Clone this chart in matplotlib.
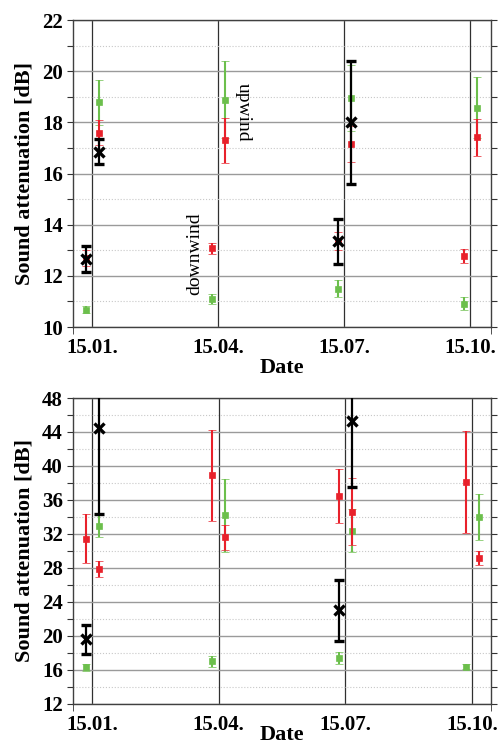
import numpy as np
import matplotlib
matplotlib.use("Agg")
import matplotlib.pyplot as plt
from matplotlib.ticker import MultipleLocator, FixedLocator

plt.rcParams['font.family'] = ['Liberation Serif', 'DejaVu Serif']

# ---- data ----
date_labels = ['15.01.', '15.04.', '15.07.', '15.10.']
date_months = [0, 3, 6, 9]   # months after 15.01.

nan = np.nan
# top panel
top_red_down = [12.70, 13.07, 13.35, 12.77]
top_red_down_err = [0.30, 0.20, 0.35, 0.27]
top_red_up = [17.60, 17.30, 17.15, 17.42]
top_red_up_err = [0.50, 0.88, 0.70, 0.73]
top_green_down = [10.68, 11.11, 11.50, 10.91]
top_green_down_err = [0.15, 0.20, 0.33, 0.26]
top_green_up = [18.78, 18.88, 18.96, 18.57]
top_green_up_err = [0.87, 1.50, 1.29, 1.20]
top_black_down = [12.67, nan, 13.35, nan]
top_black_down_err = [0.50, nan, 0.87, nan]
top_black_up = [16.85, nan, 18.00, nan]
top_black_up_err = [0.49, nan, 2.40, nan]

# bottom panel
bot_red_down = [31.45, 38.89, 36.50, 38.12]
bot_red_down_err = [2.85, 5.37, 3.17, 6.05]
bot_red_up = [27.90, 31.60, 34.62, 29.15]
bot_red_up_err = [0.98, 1.50, 3.93, 0.83]
bot_green_down = [16.33, 17.00, 17.43, 16.40]
bot_green_down_err = [0.40, 0.60, 0.68, 0.30]
bot_green_up = [32.90, 34.20, 32.40, 34.00]
bot_green_up_err = [1.30, 4.30, 2.50, 2.65]
bot_black_down = [19.60, nan, 23.00, nan]
bot_black_down_err = [1.67, nan, 3.54, nan]
bot_black_up = [44.50, nan, 45.30, nan]
bot_black_up_err = [10.20, nan, 7.80, nan]

RED = '#e8212b'
GREEN = '#6cbf4c'
BLACK = '#000000'
OFF_DOWN = -0.15
OFF_UP = 0.16

fig = plt.figure(figsize=(4.98, 7.47), dpi=100)
ax1 = fig.add_axes([0.1456, 0.5622, 0.8404, 0.411])
ax2 = fig.add_axes([0.1456, 0.0576, 0.8404, 0.4096])

def draw(ax, series, ylim, major, minor, xlim):
    x = np.array(date_months, dtype=float)
    ax.set_xlim(*xlim)
    ax.set_ylim(*ylim)
    ax.yaxis.set_major_locator(MultipleLocator(major))
    ax.yaxis.set_minor_locator(MultipleLocator(minor))
    ax.grid(which='major', axis='y', color='#9a9a9a', lw=1.0, zorder=0)
    ax.grid(which='minor', axis='y', color='#c8c8c8', lw=0.8, ls=':', zorder=0)
    for m in date_months:
        ax.axvline(m, color='#303030', lw=0.9, zorder=1)
    for (vals, errs, col, off) in series:
        v = np.array(vals, dtype=float)
        e = np.array(errs, dtype=float)
        if col == BLACK:
            ax.errorbar(x + off, v, yerr=e, fmt='x', color=col, ms=7.5, mew=2.4,
                        elinewidth=1.6, capsize=3.5, capthick=1.6, zorder=5)
        else:
            ax.errorbar(x + off, v, yerr=e, fmt='s', color=col, ms=4.8,
                        mec=col, mfc=col, mew=0.5,
                        elinewidth=1.5, capsize=3.2, capthick=1.8,
                        zorder=3 if col == GREEN else 4)
    ax.set_xticks(date_months)
    ax.set_xticklabels(date_labels, fontweight='bold', fontsize=15)
    ax.xaxis.set_minor_locator(FixedLocator(list(xlim)))
    ax.tick_params(axis='x', which='major', length=0, pad=8)
    ax.tick_params(axis='x', which='minor', length=5, direction='out', color='#333333')
    ax.tick_params(axis='y', which='both', direction='out', left=True, right=True,
                   length=4, width=0.8, color='#333333', labelsize=15, pad=3)
    for lab in ax.get_yticklabels():
        lab.set_fontweight('bold')
    for s in ax.spines.values():
        s.set_color('#404040')
        s.set_linewidth(1.0)
    ax.set_ylabel('Sound attenuation [dB]', fontweight='bold', fontsize=16, labelpad=5)

draw(ax1, [
    (top_green_down, top_green_down_err, GREEN, OFF_DOWN),
    (top_green_up, top_green_up_err, GREEN, OFF_UP),
    (top_red_down, top_red_down_err, RED, OFF_DOWN),
    (top_red_up, top_red_up_err, RED, OFF_UP),
    (top_black_down, top_black_down_err, BLACK, OFF_DOWN),
    (top_black_up, top_black_up_err, BLACK, OFF_UP),
], (10, 22), 2, 1, (-0.46, 9.5))
ax1.set_xlabel('Date', fontweight='bold', fontsize=16, labelpad=0)

draw(ax2, [
    (bot_green_down, bot_green_down_err, GREEN, OFF_DOWN),
    (bot_green_up, bot_green_up_err, GREEN, OFF_UP),
    (bot_red_down, bot_red_down_err, RED, OFF_DOWN),
    (bot_red_up, bot_red_up_err, RED, OFF_UP),
    (bot_black_down, bot_black_down_err, BLACK, OFF_DOWN),
    (bot_black_up, bot_black_up_err, BLACK, OFF_UP),
], (12, 48), 4, 2, (-0.46, 9.45))
ax2.set_xlabel('Date', fontweight='bold', fontsize=16, labelpad=-7)

ax1.text(2.45, 12.86, 'downwind', rotation=90, fontsize=14, ha='center', va='center')
ax1.text(3.6, 18.4, 'upwind', rotation=270, fontsize=14, ha='center', va='center')

fig.savefig('out.png', dpi=100)
